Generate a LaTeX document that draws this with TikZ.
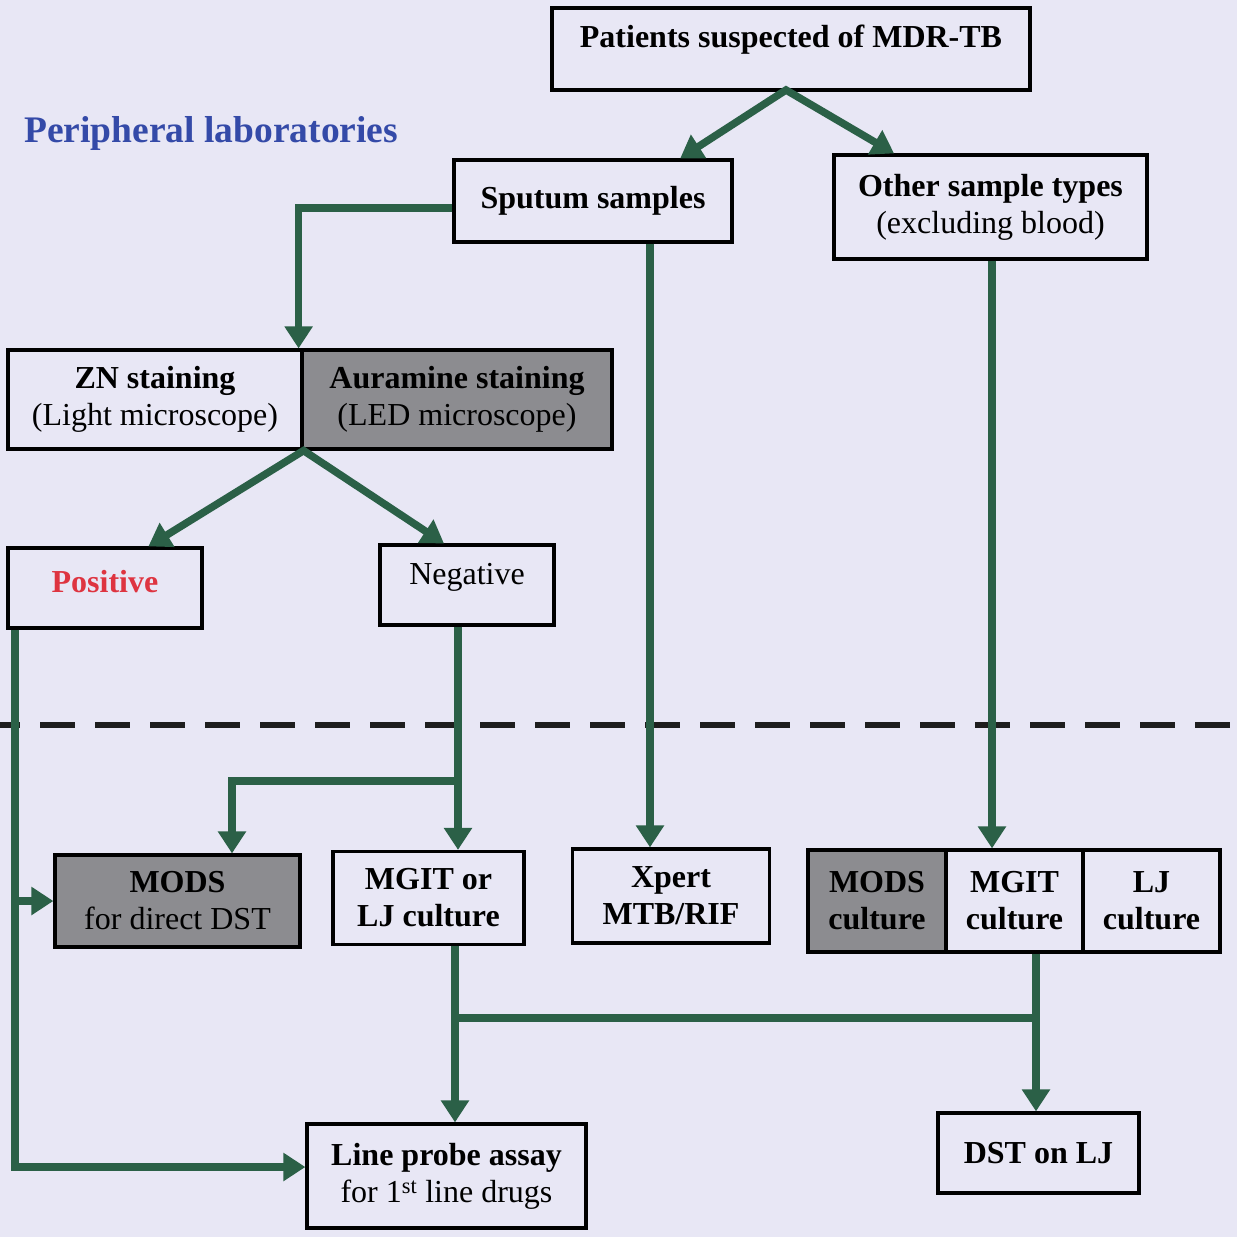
\documentclass[tikz,border=0pt]{standalone}
\usepackage{fontspec}
\setmainfont{Liberation Serif}
\usetikzlibrary{arrows.meta,calc}
\definecolor{bgc}{RGB}{232,231,245}
\definecolor{grn}{RGB}{43,96,71}
\definecolor{blu}{RGB}{52,74,168}
\definecolor{posred}{RGB}{222,52,64}
\definecolor{boxgray}{RGB}{140,140,144}
\definecolor{dashc}{RGB}{30,30,30}
\begin{document}
\begin{tikzpicture}[x=1pt,y=-1pt,
  box/.style={draw=black, line width=3.2pt, inner sep=0pt, align=center, font=\fontsize{32}{37}\selectfont},
  shadedbox/.style={box, fill=boxgray},
  conn/.style={draw=grn, line width=7.5pt},
  tip/.tip={Triangle[length=22pt,width=27pt]},
  arr/.style={conn, -tip},
]
\fill[bgc] (0,0) rectangle (1237,1237);
\useasboundingbox (0,0) rectangle (1237,1237);

% title
\node[font=\fontsize{37.5}{42}\selectfont\bfseries, text=blu, anchor=west, inner sep=0pt] (title) at (24,133) {Peripheral laboratories};

% nodes
\node[box, minimum width=478pt, minimum height=82pt, text depth=25pt] (pat) at (791,49) {\textbf{Patients suspected of MDR-TB}};
\node[box, minimum width=278pt, minimum height=82pt] (sput) at (593,201) {\textbf{Sputum samples}};
\node[box, minimum width=313pt, minimum height=104pt] (oth) at (990.5,207) {\textbf{Other sample types}\\(excluding blood)};
\node[box, minimum width=294pt, minimum height=99pt] (zn) at (155,399.5) {\textbf{ZN staining}\\(Light microscope)};
\node[shadedbox, minimum width=310pt, minimum height=99pt] (aur) at (457,399.5) {\textbf{Auramine staining}\\(LED microscope)};
\node[box, minimum width=194pt, minimum height=80pt, text depth=14pt] (pos) at (105,588) {\textcolor{posred}{\textbf{Positive}}};
\node[box, minimum width=174pt, minimum height=80pt, text depth=22pt] (neg) at (467,585) {Negative};
\node[shadedbox, minimum width=245pt, minimum height=92pt] (mods) at (177.5,901) {\textbf{MODS}\\for direct DST};
\node[box, minimum width=191pt, minimum height=93pt] (mgit) at (428.5,898) {\textbf{MGIT or}\\\textbf{LJ culture}};
\node[box, minimum width=197pt, minimum height=94pt] (xp) at (671,896) {\textbf{Xpert}\\\textbf{MTB/RIF}};
\node[shadedbox, minimum width=138pt, minimum height=102pt] (mods2) at (877,901) {\textbf{MODS}\\\textbf{culture}};
\node[box, minimum width=137pt, minimum height=102pt] (mgit2) at (1014.5,901) {\textbf{MGIT}\\\textbf{culture}};
\node[box, minimum width=137pt, minimum height=102pt] (lj2) at (1151.5,901) {\textbf{LJ}\\\textbf{culture}};
\node[box, minimum width=279pt, minimum height=104pt] (lpa) at (446.5,1176) {\textbf{Line probe assay}\\for 1\textsuperscript{st} line drugs};
\node[box, minimum width=201pt, minimum height=80pt] (dst) at (1038.5,1153) {\textbf{DST on LJ}};

% dashed separator
\draw[dashc, line width=6.5pt, dash pattern=on 35pt off 20pt, dash phase=15pt] (0,725) -- (1237,725);

% helper coordinates
\coordinate (xs) at (650,0);
\coordinate (xo) at (992,0);
\coordinate (xpl) at (15,0);
\coordinate (xn) at (458,0);
\coordinate (xm) at (232,0);
\coordinate (xc) at (455,0);
\coordinate (xt) at (1036,0);
\coordinate (yb) at (0,781);
\coordinate (yj) at (0,1018);
\coordinate (yl) at (0,1167);
\coordinate (apex) at (786,90);

% connectors
\draw[conn, tip-tip] ($(sput.north west)!0.81!(sput.north east)$) -- (apex) -- ($(oth.north west)!0.195!(oth.north east)$);
\draw[arr] ($(sput.west)+(0,7)$) -| ($(zn.north east)+(-5,0)$);
\draw[arr] (sput.south -| xs) -- (xp.north -| xs);
\draw[arr] (oth.south -| xo) -- (mgit2.north -| xo);
\draw[conn, tip-tip] ($(pos.north west)!0.72!(pos.north east)$) -- (zn.south east) -- ($(neg.north west)!0.37!(neg.north east)$);
\draw[arr] (neg.south -| xn) -- (mgit.north -| xn);
\draw[arr] (xn |- yb) -| (mods.north -| xm);
\draw[arr] (pos.south -| xpl) |- (lpa.west |- yl);
\draw[arr] (mods.west -| xpl) -- (mods.west);
\draw[arr] (mgit.south -| xc) -- (lpa.north -| xc);
\draw[arr] (mgit2.south -| xt) -- (dst.north -| xt);
\draw[conn] (xc |- yj) -- (xt |- yj);
\end{tikzpicture}
\end{document}
